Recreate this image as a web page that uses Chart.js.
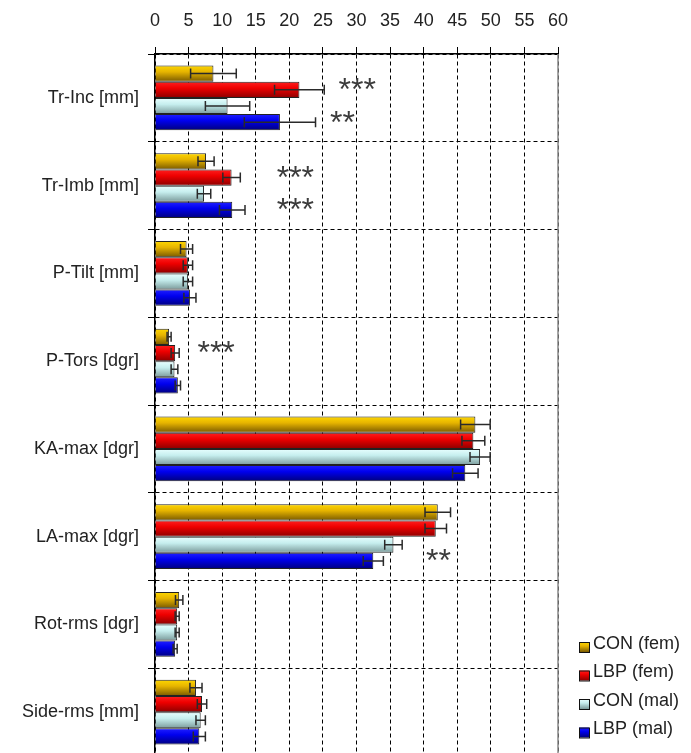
<!DOCTYPE html>
<html>
<head>
<meta charset="utf-8">
<script src="https://cdn.jsdelivr.net/npm/chart.js@4.4.0/dist/chart.umd.min.js"></script>
<style>
  html, body { margin: 0; padding: 0; background: #fff; overflow: hidden; }
  #myChart { display: block; width: 691px; height: 760px; }
</style>
</head>
<body>
<canvas id="myChart" width="691" height="760"></canvas>
<script>
var categories = ['Tr-Inc [mm]', 'Tr-Imb [mm]', 'P-Tilt [mm]', 'P-Tors [dgr]', 'KA-max [dgr]', 'LA-max [dgr]', 'Rot-rms [dgr]', 'Side-rms [mm]']
var seriesLabels = ['CON (fem)', 'LBP (fem)', 'CON (mal)', 'LBP (mal)']

var conFem = [8.7, 7.6, 4.7, 2.1, 47.7, 42.1, 3.6, 6.1]
var lbpFem = [21.5, 11.4, 4.9, 3.0, 47.4, 41.8, 3.3, 7.0]
var conMal = [10.8, 7.3, 4.9, 2.9, 48.4, 35.5, 3.3, 6.8]
var lbpMal = [18.6, 11.5, 5.2, 3.4, 46.2, 32.5, 3.0, 6.6]

var conFemErr = [3.4, 1.2, 0.9, 0.3, 2.2, 1.9, 0.55, 0.9]
var lbpFemErr = [3.7, 1.3, 0.7, 0.6, 1.7, 1.6, 0.3, 0.7]
var conMalErr = [3.3, 1.0, 0.7, 0.5, 1.5, 1.3, 0.3, 0.7]
var lbpMalErr = [5.3, 1.9, 0.9, 0.4, 1.9, 1.5, 0.3, 0.9]

var xTicks = [0, 5, 10, 15, 20, 25, 30, 35, 40, 45, 50, 55, 60]

// significance marks: category index, series index, x value, text
var sigMarks = [
  [0, 1, 30.1, '***'],
  [0, 3, 27.9, '**'],
  [1, 1, 20.9, '***'],
  [1, 3, 20.9, '***'],
  [3, 1, 9.1, '***'],
  [5, 3, 42.2, '**']
]

var seriesValues = [conFem, lbpFem, conMal, lbpMal]
var seriesErrors = [conFemErr, lbpFemErr, conMalErr, lbpMalErr]
var fills = [
  ['#ffd800', '#e6b400', '#7a5a00'],
  ['#ff2020', '#ee0000', '#8c0000'],
  ['#e8ffff', '#c6eeee', '#7a9a9a'],
  ['#2020ff', '#0000ee', '#00007c']
]
var FONT = '"Liberation Sans", Arial, sans-serif'

function makeGradient(ctx, top, h, stops) {
  var g = ctx.createLinearGradient(0, top, 0, top + h)
  g.addColorStop(0, stops[0])
  g.addColorStop(0.4, stops[1])
  g.addColorStop(1, stops[2])
  return g
}

var decorPlugin = {
  id: 'decor',
  beforeDatasetsDraw: function(chart) {
    var ctx = chart.ctx
    chart.data.datasets.forEach(function(ds, i) {
      chart.getDatasetMeta(i).data.forEach(function(bar) {
        var top = bar.y - bar.height / 2
        bar.options = Object.assign({}, bar.options, {backgroundColor: makeGradient(ctx, top, bar.height, fills[i])})
      })
    })
  },
  afterDatasetsDraw: function(chart) {
    var ctx = chart.ctx
    var xs = chart.scales.x
    var area = chart.chartArea
    ctx.save()
    // error bars
    ctx.strokeStyle = '#2a2a2a'
    ctx.lineWidth = 1.5
    seriesValues.forEach(function(vals, i) {
      var meta = chart.getDatasetMeta(i)
      vals.forEach(function(v, j) {
        var bar = meta.data[j]
        var e = seriesErrors[i][j]
        var x1 = xs.getPixelForValue(v - e), x2 = xs.getPixelForValue(v + e)
        var cap = 5
        ctx.beginPath()
        ctx.moveTo(x1, bar.y); ctx.lineTo(x2, bar.y)
        ctx.moveTo(x1, bar.y - cap); ctx.lineTo(x1, bar.y + cap)
        ctx.moveTo(x2, bar.y - cap); ctx.lineTo(x2, bar.y + cap)
        ctx.stroke()
      })
    })
    // right frame
    ctx.strokeStyle = '#888'
    ctx.lineWidth = 1.5
    ctx.beginPath()
    ctx.moveTo(area.right, area.top); ctx.lineTo(area.right, area.bottom)
    ctx.stroke()
    // significance stars
    ctx.fillStyle = '#3c3c3c'
    ctx.font = '32px ' + FONT
    ctx.textAlign = 'center'
    ctx.textBaseline = 'alphabetic'
    sigMarks.forEach(function(m) {
      var bar = chart.getDatasetMeta(m[1]).data[m[0]]
      var cy = bar.y - bar.height * 0.35
      var tm = ctx.measureText(m[3])
      var y = cy + (tm.actualBoundingBoxAscent - tm.actualBoundingBoxDescent) / 2
      ctx.fillText(m[3], xs.getPixelForValue(m[2]), y)
    })
    // legend
    ctx.font = '18px ' + FONT
    ctx.textAlign = 'left'
    ctx.textBaseline = 'middle'
    seriesLabels.forEach(function(lbl, i) {
      var cy = 644 + i * 28.5
      var bx = 579, by = cy - 2, bs = 10
      ctx.fillStyle = makeGradient(ctx, by, bs, fills[i])
      ctx.fillRect(bx, by, bs, bs)
      ctx.strokeStyle = '#111'
      ctx.lineWidth = 1
      ctx.strokeRect(bx + 0.5, by + 0.5, bs, bs)
      ctx.fillStyle = '#222'
      ctx.fillText(lbl, 593, cy)
    })
    ctx.restore()
  }
}

var chartData = {
  labels: categories,
  datasets: seriesLabels.map(function(lbl, i) {
    return {
      label: lbl,
      data: seriesValues[i],
      backgroundColor: fills[i][1],
      borderColor: '#222',
      borderWidth: 1,
      barPercentage: 1,
      categoryPercentage: 0.74
    }
  })
}

var ctx = document.getElementById('myChart')
var myBarChart = new Chart(ctx, {
  type: 'bar',
  data: chartData,
  plugins: [decorPlugin],
  options: {
    indexAxis: 'y',
    responsive: false,
    animation: false,
    layout: { padding: { top: 0, left: 0, right: 133, bottom: 4 } },
    plugins: { legend: { display: false }, tooltip: { enabled: false } },
    scales: {
      x: {
        position: 'top',
        min: 0,
        max: 60,
        afterBuildTicks: function(scale) {
          scale.ticks = xTicks.map(function(v) { return {value: v} })
        },
        afterFit: function(scale) { scale.height = 54 },
        ticks: { color: '#222', font: { family: FONT, size: 18 }, padding: 15, maxRotation: 0, autoSkip: false },
        grid: { color: '#000', lineWidth: 1, tickLength: 7, tickColor: '#000', tickBorderDash: [] },
        border: { display: true, color: '#000', width: 1.5, dash: [4, 3] }
      },
      y: {
        afterFit: function(scale) {
          scale.width = 155
          scale.paddingTop = 0
          scale.paddingBottom = 0
        },
        ticks: { color: '#222', font: { family: FONT, size: 18 }, padding: 9 },
        grid: { offset: true, color: '#000', lineWidth: 1, tickLength: 7, tickColor: '#000', tickBorderDash: [] },
        border: { display: true, color: '#000', width: 1.5, dash: [4, 3] }
      }
    }
  }
})
</script>
</body>
</html>
